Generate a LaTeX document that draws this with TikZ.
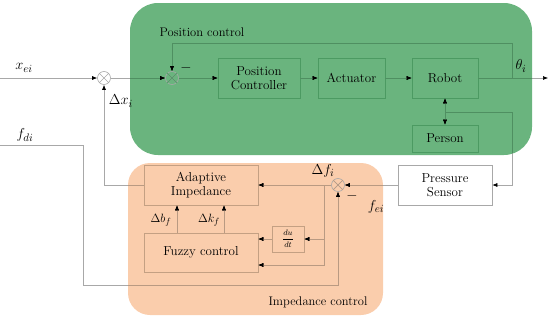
\documentclass[tikz,border=0pt]{standalone}
\usetikzlibrary{arrows.meta}
\definecolor{gfill}{HTML}{6AB47E}
\definecolor{gbord}{HTML}{4C9A62}
\definecolor{ofill}{HTML}{FACDAC}
\definecolor{obord}{HTML}{C4A083}
\definecolor{lout}{HTML}{A8A8A8}
\definecolor{lgreen}{HTML}{4F8F61}
\definecolor{lorange}{HTML}{B99A82}
\newcommand\allconns{%
  \draw[conn,-{Latex[length=5pt,width=4pt,color=black]}] (xin) -- (s1.west);
  \draw[conn,-{Latex[length=5pt,width=4pt,color=black]}] (s1.east) -- (s2.west);
  \draw[conn,-{Latex[length=5pt,width=4pt,color=black]}] (s2.east) -- (pc.west);
  \draw[conn,-{Latex[length=5pt,width=4pt,color=black]}] (pc.east) -- (act.west);
  \draw[conn,-{Latex[length=5pt,width=4pt,color=black]}] (act.east) -- (rob.west);
  \draw[conn,-{Latex[length=5pt,width=4pt,color=black]}] (rob.east) -- (out);
  \draw[conn,-{Latex[length=5pt,width=4pt,color=black]}] (fb) |- (fbtop) -- (s2.north);
  \draw[conn,{Latex[length=5pt,width=4pt,color=black]}-{Latex[length=5pt,width=4pt,color=black]}] (rob.south) -- (per.north);
  \draw[conn,-{Latex[length=5pt,width=4pt,color=black]}] (rp) -| (psr) -- (ps.east);
  \draw[conn,-{Latex[length=5pt,width=4pt,color=black]}] (ps.west) -- (s3.east);
  \draw[conn,-{Latex[length=5pt,width=4pt,color=black]}] (s3.west) -- (ai.east);
  \draw[conn,-{Latex[length=5pt,width=4pt,color=black]}] (br) |- (fzin2);
  \draw[conn,-{Latex[length=5pt,width=4pt,color=black]}] (br2) -- (dd.east);
  \draw[conn,-{Latex[length=5pt,width=4pt,color=black]}] (dd.west) -- (fzin1);
  \draw[conn,-{Latex[length=5pt,width=4pt,color=black]}] (fzb) -- (aib);
  \draw[conn,-{Latex[length=5pt,width=4pt,color=black]}] (fzk) -- (aik);
  \draw[conn,-{Latex[length=5pt,width=4pt,color=black]}] (ai.west) -| (s1.south);
  \draw[conn,-{Latex[length=5pt,width=4pt,color=black]}] (fdin) -- (fd1) |- (fd2) -- (s3.south);
  \draw[conn] (s1.north west) -- (s1.south east) (s1.north east) -- (s1.south west);
  \draw[conn] (s2.north west) -- (s2.south east) (s2.north east) -- (s2.south west);
  \draw[conn] (s3.north west) -- (s3.south east) (s3.north east) -- (s3.south west);
}
\begin{document}
\begin{tikzpicture}[x=1pt,y=-1pt,
  conn/.style={draw=lout,line width=0.6pt},
  gbox/.style={draw=gbord,fill=gfill,line width=0.6pt,font=\fontsize{13}{14}\selectfont,align=center,inner sep=0pt},
  obox/.style={draw=obord,fill=ofill,line width=0.6pt,font=\fontsize{13}{14}\selectfont,align=center,inner sep=0pt},
  sumnode/.style={circle,draw=lout,line width=0.6pt,minimum size=13pt,inner sep=0pt},
  lbl/.style={font=\fontsize{15}{16}\selectfont,inner sep=0pt},
  ttl/.style={font=\fontsize{12.5}{13.5}\selectfont,inner sep=0pt}]
\useasboundingbox (0,0) rectangle (550,319);
% regions
\fill[gfill,rounded corners=28pt] (130,3) rectangle (532,155);
\fill[ofill,rounded corners=22pt] (128,163) rectangle (383,315);
% boxes
\node[gbox,minimum width=82pt,minimum height=40pt] (pc) at (259,78) {Position\\Controller};
\node[gbox,minimum width=67pt,minimum height=40pt] (act) at (351.5,78) {Actuator};
\node[gbox,minimum width=66pt,minimum height=40pt] (rob) at (445,78) {Robot};
\node[gbox,minimum width=66pt,minimum height=27pt] (per) at (445,138.5) {Person};
\node[draw=lout,fill=white,line width=0.6pt,font=\fontsize{13}{14}\selectfont,align=center,inner sep=0pt,minimum width=94pt,minimum height=40pt] (ps) at (445,185) {Pressure\\Sensor};
\node[obox,minimum width=114pt,minimum height=40pt] (ai) at (201,185) {Adaptive\\Impedance};
\node[obox,minimum width=114pt,minimum height=39pt] (fz) at (201,252.5) {Fuzzy control};
\node[obox,minimum width=32pt,minimum height=26pt,font=\fontsize{8.5}{9}\selectfont] (dd) at (288,239) {$\displaystyle\frac{du}{dt}$};
% sums
\node[sumnode] (s1) at (104,78) {};
\node[sumnode] (s2) at (172,78) {};
\node[sumnode] (s3) at (338,185) {};
% coordinates
\coordinate (xin) at (0,78);
\coordinate (out) at (548,78);
\coordinate (fb) at (512,78);
\coordinate (fbtop) at (172,43);
\coordinate (rp) at (445,112);
\coordinate (psr) at (512,185);
\coordinate (br) at (324,185);
\coordinate (br2) at (324,239);
\coordinate (fzin2) at (fz.east |- 0,265);
\coordinate (fzin1) at (fz.east |- 0,239);
\coordinate (fzb) at (fz.north -| 177,0);
\coordinate (aib) at (ai.south -| 177,0);
\coordinate (fzk) at (fz.north -| 224,0);
\coordinate (aik) at (ai.south -| 224,0);
\coordinate (fdin) at (0,145);
\coordinate (fd1) at (83,145);
\coordinate (fd2) at (338,285);
% connectors
\allconns
\begin{scope}[conn/.style={draw=lgreen,line width=0.6pt}]
  \clip[rounded corners=28pt] (130,3) rectangle (532,155);
  \allconns
\end{scope}
\begin{scope}[conn/.style={draw=lorange,line width=0.6pt}]
  \clip[rounded corners=22pt] (128,163) rectangle (383,315);
  \allconns
\end{scope}
% labels
\node[lbl] (lxe) at (24,68) {$x_{ei}$};
\node[lbl] (ldx) at (121,101) {$\Delta x_i$};
\node[lbl] (lfd) at (25,135) {$f_{di}$};
\node[lbl] (lth) at (521,66) {$\theta_i$};
\node[lbl] (lm1) at (186,68) {$-$};
\node[lbl] (lm2) at (352,196) {$-$};
\node[lbl] (ldf) at (323,171) {$\Delta f_i$};
\node[lbl] (lfe) at (376,207) {$f_{ei}$};
\node[lbl,font=\fontsize{12.5}{13}\selectfont] (ldb) at (161,220) {$\Delta b_f$};
\node[lbl,font=\fontsize{12.5}{13}\selectfont] (ldk) at (209,220) {$\Delta k_f$};
\node[ttl] (tpc) at (202,32) {Position control};
\node[ttl] (tic) at (318,302) {Impedance control};
\end{tikzpicture}
\end{document}
